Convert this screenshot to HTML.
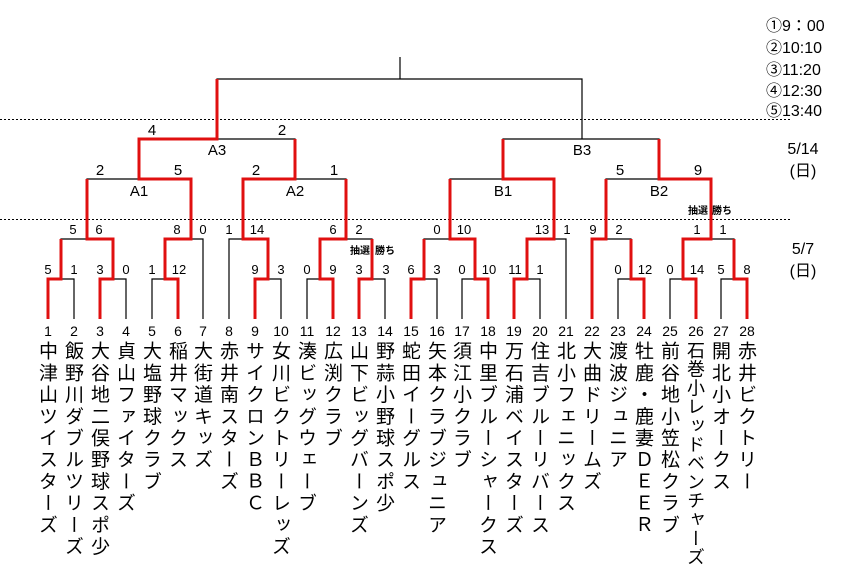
<!DOCTYPE html>
<html><head><meta charset="utf-8"><style>
body{margin:0;background:#fff;}
#w{position:relative;width:862px;height:576px;overflow:hidden;background:#fff;font-family:"Liberation Sans","Noto Sans CJK JP",sans-serif;}
.n{position:absolute;top:341px;width:24px;writing-mode:vertical-rl;font-family:"Noto Sans CJK JP","IPAGothic",sans-serif;font-size:19px;line-height:24px;letter-spacing:2.7px;color:#000;}
</style></head><body><div id="w">
<svg width="862" height="576" style="position:absolute;left:0;top:0" font-family="Liberation Sans, sans-serif">
<g stroke="#000" stroke-width="1" stroke-dasharray="2,2"><line x1="0" y1="119.5" x2="790" y2="119.5"/><line x1="0" y1="219.5" x2="790" y2="219.5"/></g>
<g fill="none" stroke="#000" stroke-width="1.2">
<path d="M48 319V279H74V319M100 319V279H126V319M152 319V279H178V319M255 319V279H281V319M307 319V279H333V319M359 319V279H385V319M411 319V279H437V319M462 319V279H488V319M514 319V279H540V319M618 319V279H644V319M670 319V279H696V319M721 319V279H747V319"/>
<path d="M61 279V239H113V279M165 279V239H203V319M229 319V239H268V279M320 279V239H372V279M424 279V239H475V279M527 279V239H566V319M592 319V239H631V279M683 279V239H734V279"/>
<path d="M87 239V179H191V239M243 239V179H346V239M450 239V179H554V239M606 239V179H711V239"/>
<path d="M139 179V139H295V179M503 179V139H659V179"/>
<path d="M217 139V79H582V139M400 79V57"/>
</g>
<g fill="none" stroke="#e01010" stroke-width="3" stroke-linejoin="miter">
<path d="M48 319V279H61V239"/>
<path d="M100 319V279H113V239H87V179"/>
<path d="M178 319V279H165V239H191V179H139V139H217V79"/>
<path d="M255 319V279H268V239H243V179H295V139"/>
<path d="M333 319V279H320V239H346V179"/>
<path d="M359 319V279H372V239"/>
<path d="M411 319V279H424V239"/>
<path d="M488 319V279H475V239H450V179"/>
<path d="M514 319V279H527V239H554V179H503V139"/>
<path d="M592 319V239H606V179"/>
<path d="M644 319V279H631V239"/>
<path d="M696 319V279H683V239H711V179H659V139"/>
<path d="M747 319V279H734V239"/>
</g>
<g font-size="13" text-anchor="middle" fill="#000">
<text x="48" y="274">5</text><text x="74" y="274">1</text><text x="100" y="274">3</text><text x="126" y="274">0</text>
<text x="152" y="274">1</text><text x="179" y="274">12</text>
<text x="255" y="274">9</text><text x="281" y="274">3</text><text x="307" y="274">0</text><text x="333" y="274">9</text>
<text x="359" y="274">3</text><text x="386" y="274">3</text>
<text x="411" y="274">6</text><text x="437" y="274">3</text><text x="462" y="274">0</text><text x="489" y="274">10</text>
<text x="515" y="274">11</text><text x="540" y="274">1</text>
<text x="618" y="274">0</text><text x="645" y="274">12</text><text x="670" y="274">0</text><text x="697" y="274">14</text>
<text x="721" y="274">5</text><text x="747" y="274">8</text>
<text x="73" y="234">5</text><text x="99" y="234">6</text><text x="177" y="234">8</text><text x="203" y="234">0</text>
<text x="229" y="234">1</text><text x="257" y="234">14</text><text x="333" y="234">6</text><text x="359" y="234">2</text>
<text x="437" y="234">0</text><text x="464" y="234">10</text><text x="542" y="234">13</text><text x="567" y="234">1</text>
<text x="593" y="234">9</text><text x="619" y="234">2</text><text x="697" y="234">1</text><text x="723" y="234">1</text>
</g>
<g font-size="15" text-anchor="middle" fill="#000">
<text x="100" y="175">2</text><text x="178" y="175">5</text><text x="256" y="175">2</text><text x="334" y="175">1</text>
<text x="620" y="175">5</text><text x="698" y="175">9</text>
<text x="152" y="135">4</text><text x="282" y="135">2</text>
<text x="217" y="155">A3</text><text x="139" y="196">A1</text><text x="295" y="196">A2</text>
<text x="582" y="155">B3</text><text x="503" y="196">B1</text><text x="659" y="196">B2</text>
</g>
<g font-size="10" font-weight="bold" font-family="Noto Sans CJK JP, sans-serif" fill="#000">
<text x="350" y="254">抽選</text><text x="375" y="254">勝ち</text>
<text x="688" y="214">抽選</text><text x="712" y="214">勝ち</text>
</g>
<g font-size="16" fill="#000" font-family="Liberation Sans, Noto Sans CJK JP, sans-serif">
<text x="766" y="31">①9：00</text><text x="766" y="53">②10:10</text><text x="766" y="75">③11:20</text>
<text x="766" y="96">④12:30</text><text x="766" y="116">⑤13:40</text>
<text x="803" y="154" text-anchor="middle">5/14</text><text x="803" y="176" text-anchor="middle">(日)</text>
<text x="803" y="254" text-anchor="middle">5/7</text><text x="803" y="276" text-anchor="middle">(日)</text>
</g>
<g font-size="14" text-anchor="middle" fill="#000">
<text x="48" y="336">1</text><text x="74" y="336">2</text><text x="100" y="336">3</text><text x="126" y="336">4</text><text x="152" y="336">5</text><text x="178" y="336">6</text><text x="203" y="336">7</text><text x="229" y="336">8</text><text x="255" y="336">9</text><text x="281" y="336">10</text><text x="307" y="336">11</text><text x="333" y="336">12</text><text x="359" y="336">13</text><text x="385" y="336">14</text><text x="411" y="336">15</text><text x="437" y="336">16</text><text x="462" y="336">17</text><text x="488" y="336">18</text><text x="514" y="336">19</text><text x="540" y="336">20</text><text x="566" y="336">21</text><text x="592" y="336">22</text><text x="618" y="336">23</text><text x="644" y="336">24</text><text x="670" y="336">25</text><text x="696" y="336">26</text><text x="721" y="336">27</text><text x="747" y="336">28</text>
</g>
</svg>
<div class="n" style="left:36px">中津山ツイスターズ</div>
<div class="n" style="left:62px">飯野川ダブルツリーズ</div>
<div class="n" style="left:88px">大谷地二俣野球スポ少</div>
<div class="n" style="left:114px">貞山ファイターズ</div>
<div class="n" style="left:140px">大塩野球クラブ</div>
<div class="n" style="left:166px">稲井マックス</div>
<div class="n" style="left:191px">大街道キッズ</div>
<div class="n" style="left:217px">赤井南スターズ</div>
<div class="n" style="left:243px">サイクロンＢＢＣ</div>
<div class="n" style="left:269px">女川ビクトリーレッズ</div>
<div class="n" style="left:295px">湊ビッグウェーブ</div>
<div class="n" style="left:321px">広渕クラブ</div>
<div class="n" style="left:347px">山下ビッグバーンズ</div>
<div class="n" style="left:373px">野蒜小野球スポ少</div>
<div class="n" style="left:399px">蛇田イーグルス</div>
<div class="n" style="left:425px">矢本クラブジュニア</div>
<div class="n" style="left:450px">須江小クラブ</div>
<div class="n" style="left:476px">中里ブルーシャークス</div>
<div class="n" style="left:502px">万石浦ベイスターズ</div>
<div class="n" style="left:528px">住吉ブルーリバース</div>
<div class="n" style="left:554px">北小フェニックス</div>
<div class="n" style="left:580px">大曲ドリームズ</div>
<div class="n" style="left:606px">渡波ジュニア</div>
<div class="n" style="left:632px">牡鹿・鹿妻ＤＥＥＲ</div>
<div class="n" style="left:658px">前谷地小笠松クラブ</div>
<div class="n" style="left:684px;font-size:18px;letter-spacing:0.8px">石巻小レッドベンチャーズ</div>
<div class="n" style="left:709px">開北小オークス</div>
<div class="n" style="left:735px">赤井ビクトリー</div>
</div></body></html>
